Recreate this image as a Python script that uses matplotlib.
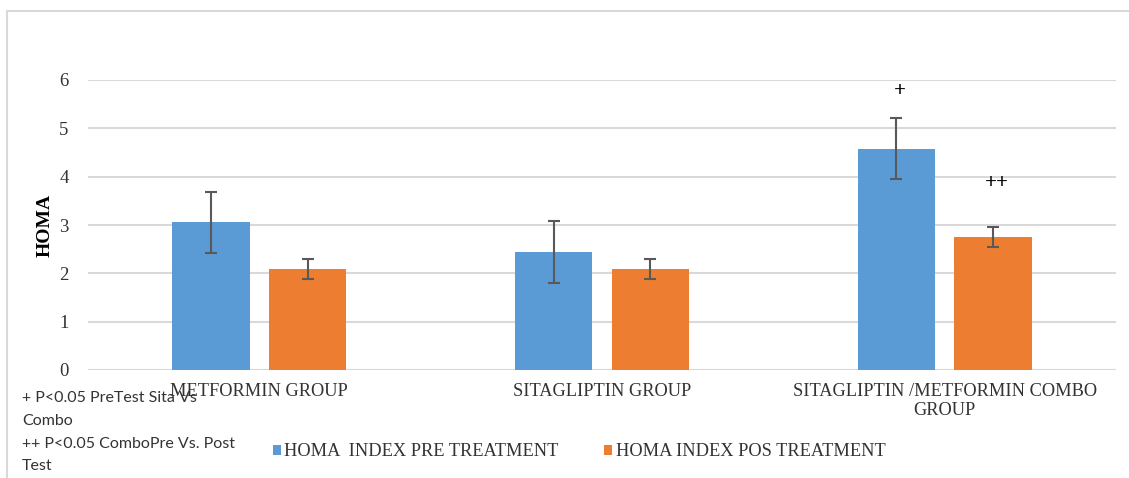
import matplotlib
matplotlib.use("Agg")
import matplotlib.pyplot as plt
import numpy as np
from matplotlib.patches import Rectangle

categories = ["METFORMIN GROUP", "SITAGLIPTIN GROUP", "SITAGLIPTIN /METFORMIN COMBO\nGROUP"]
series_names = ["HOMA  INDEX PRE TREATMENT", "HOMA INDEX POS TREATMENT"]
pre_values = [3.06, 2.44, 4.58]
pre_errors = [0.63, 0.65, 0.63]
post_values = [2.09, 2.09, 2.75]
post_errors = [0.21, 0.21, 0.20]
pre_marks = ["", "", "+"]
post_marks = ["", "", "++"]
y_ticks = [0, 1, 2, 3, 4, 5, 6]
notes = "+ P<0.05 PreTest Sita Vs\nCombo\n++ P<0.05 ComboPre Vs. Post\nTest"

blue = "#5B9BD5"
orange = "#ED7D31"
grid_c = "#D9D9D9"
txt_c = "#333333"
serif = ["Liberation Serif", "DejaVu Serif"]

fig = plt.figure(figsize=(11.29, 4.78), dpi=100)
ax = fig.add_axes([88/1129, 1-370/478, (1116-88)/1129, (370-80)/478])

x = np.arange(len(categories))
w = 0.225
off = 0.141
ek = dict(ecolor="#595959", elinewidth=1.5, capsize=4, capthick=1.5)
ax.bar(x - off, pre_values, w, color=blue, yerr=pre_errors, error_kw=ek,
       label=series_names[0], zorder=3)
ax.bar(x + off, post_values, w, color=orange, yerr=post_errors, error_kw=ek,
       label=series_names[1], zorder=3)

for i in range(len(categories)):
    if pre_marks[i]:
        ax.text(x[i] - off + 0.01, pre_values[i] + pre_errors[i] + 0.56, pre_marks[i],
                ha="center", va="center", fontsize=15, family=serif, color="black",
                fontweight="bold")
    if post_marks[i]:
        ax.text(x[i] + off + 0.01, post_values[i] + post_errors[i] + 0.91, post_marks[i],
                ha="center", va="center", fontsize=15, family=serif, color="black",
                fontweight="bold")

ax.set_xlim(-0.5, len(categories) - 0.5)
ax.set_ylim(0, 6)
ax.set_yticks(y_ticks)
ax.set_yticklabels([str(t) for t in y_ticks], family=serif, fontsize=13.5, color=txt_c)
ax.set_xticks(x)
ax.set_xticklabels(categories, family=serif, fontsize=13.2, color=txt_c, linespacing=1.2)
ax.tick_params(axis="both", length=0)
ax.tick_params(axis="y", pad=14)
ax.tick_params(axis="x", pad=9)
ax.grid(axis="y", color=grid_c, lw=1.5, zorder=0)
for s in ax.spines.values():
    s.set_visible(False)
ax.set_ylabel("HOMA", family=serif, fontsize=14, fontweight="bold", labelpad=4, color="black")

leg = fig.legend(loc="center", bbox_to_anchor=(579/1129, 1-452/478), ncol=2, frameon=False,
                 prop={"family": serif, "size": 13.2}, handlelength=0.45, handleheight=0.45,
                 handletextpad=0.2, columnspacing=2.45)
for t in leg.get_texts():
    t.set_color(txt_c)

fig.text(22/1129, 1-391/478, notes, ha="left", va="top", fontsize=11.5,
         family=["Lato", "DejaVu Sans"], color=txt_c, linespacing=1.8)

fig.patches.append(Rectangle((7/1129, -0.1), 1.2, 1 - 11/478 + 0.1, transform=fig.transFigure,
                             fill=False, edgecolor=grid_c, lw=1.5))

fig.savefig("out.png", dpi=100)
